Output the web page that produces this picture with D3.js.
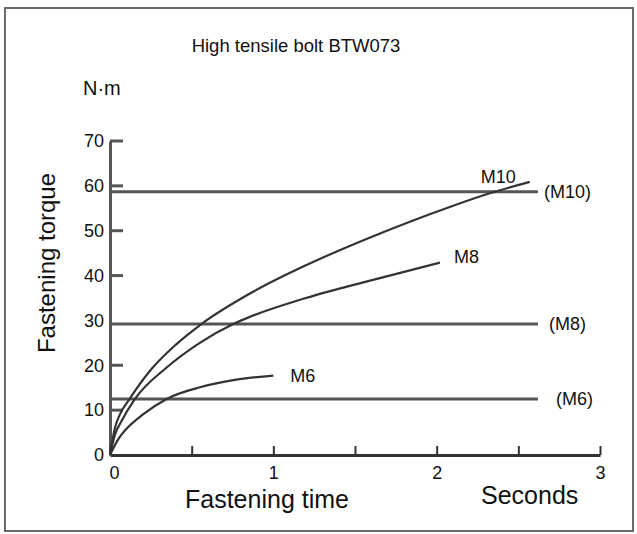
<!DOCTYPE html>
<html>
<head>
<meta charset="utf-8">
<script src="https://cdn.jsdelivr.net/npm/d3@7"></script>
<style>
  html, body { margin: 0; padding: 0; background: #fff; }
  svg { display: block; }
  text { font-family: "Liberation Sans", Arial, sans-serif; fill: #111; }
</style>
</head>
<body>
<svg id="chart" width="637" height="534"></svg>
<script>
// ---- data ----
const title = "High tensile bolt BTW073";
const unitLabel = "N·m";
const yAxisTitle = "Fastening torque";
const xAxisTitle = "Fastening time";
const xUnit = "Seconds";

const timeTickLabels = [0, 1, 2, 3];
const timeMinorTicks = [0, 0.5, 1, 1.5, 2, 2.5, 3];
const torqueTickLabels = [0, 10, 20, 30, 40, 50, 60, 70];
const torqueTickMarks = [10, 20, 40, 50, 60, 70];

const seriesNames = ["M10", "M8", "M6"];
const m10Time   = [0, 0.03, 0.06, 0.12, 0.25, 0.4, 0.56, 0.857, 1.2, 1.6, 2.08, 2.33, 2.57];
const m10Torque = [0, 6, 9, 12.5, 19, 24.5, 29.2, 36, 42.3, 48.6, 55.3, 58.4, 60.9];
const m8Time    = [0, 0.03, 0.07, 0.153, 0.347, 0.55, 0.755, 0.857, 1.2, 1.67, 2.02];
const m8Torque  = [0, 4.5, 7.5, 12.5, 19.5, 25, 29.2, 30.8, 35, 39.6, 42.9];
const m6Time    = [0, 0.05, 0.1, 0.2, 0.347, 0.55, 0.755, 1.0];
const m6Torque  = [0, 3.5, 5.8, 9, 12.5, 15.1, 16.7, 17.7];

const limitNames  = ["(M10)", "(M8)", "(M6)"];
const limitTorque = [58.7, 29.2, 12.5];
const limitEndTime = 2.62;

// ---- drawing ----
const svg = d3.select("#chart");
const x = d3.scaleLinear().domain([0, 3]).range([110, 600]);
const y = d3.scaleLinear().domain([0, 70]).range([455, 141]);

// frame
svg.append("rect").attr("x", 5).attr("y", 8).attr("width", 628).attr("height", 523)
  .attr("fill", "#fff").attr("stroke", "#6a6a6a").attr("stroke-width", 2);

// title and labels
svg.append("text").attr("x", 296).attr("y", 52).attr("text-anchor", "middle")
  .attr("font-size", 18.5).text(title);
svg.append("text").attr("x", 83).attr("y", 95).attr("font-size", 20).text(unitLabel);
svg.append("text").attr("transform", "translate(55,263) rotate(-90)")
  .attr("text-anchor", "middle").attr("font-size", 24).text(yAxisTitle);
svg.append("text").attr("x", 185).attr("y", 508).attr("font-size", 25).text(xAxisTitle);
svg.append("text").attr("x", 481).attr("y", 504).attr("font-size", 25).text(xUnit);

// y axis
const yAxis = d3.axisLeft(y).tickValues(torqueTickLabels).tickSizeInner(0).tickSizeOuter(0).tickPadding(6);
const gy = svg.append("g").attr("transform", "translate(110,0)").call(yAxis);
gy.select(".domain").attr("stroke", "#555").attr("stroke-width", 3);
gy.selectAll(".tick line").remove();
gy.selectAll(".tick text").attr("font-size", 18).attr("font-family", null).attr("fill", "#111");
svg.append("g").selectAll("line").data(torqueTickMarks).join("line")
  .attr("x1", x(0)).attr("x2", x(0) + 13)
  .attr("y1", d => y(d)).attr("y2", d => y(d))
  .attr("stroke", "#555").attr("stroke-width", 3);

// x axis
const xAxis = d3.axisBottom(x).tickValues(timeMinorTicks).tickSizeInner(-9).tickSizeOuter(0)
  .tickPadding(11).tickFormat(d => timeTickLabels.includes(d) ? d3.format("d")(d) : "");
const gx = svg.append("g").attr("transform", "translate(0,455)").call(xAxis);
gx.select(".domain").attr("stroke", "#333").attr("stroke-width", 3);
gx.selectAll(".tick line").attr("stroke", "#333").attr("stroke-width", 2);
gx.selectAll(".tick text").attr("font-size", 18).attr("font-family", null).attr("fill", "#111");
gx.selectAll(".tick").filter(d => d === 0).select("text").attr("dx", 4);

// limit lines
limitNames.forEach((name, i) => {
  svg.append("line")
    .attr("x1", x(0)).attr("x2", x(limitEndTime))
    .attr("y1", y(limitTorque[i])).attr("y2", y(limitTorque[i]))
    .attr("stroke", "#555").attr("stroke-width", 3);
});
const limitLabelDx = [6, 11, 18];
limitNames.forEach((name, i) => {
  svg.append("text").attr("x", x(limitEndTime) + limitLabelDx[i]).attr("y", y(limitTorque[i]) + 6)
    .attr("font-size", 18).text(name);
});

// curves
const line = d3.line().x(d => x(d[0])).y(d => y(d[1])).curve(d3.curveMonotoneX);
const series = [
  [m10Time, m10Torque],
  [m8Time, m8Torque],
  [m6Time, m6Torque]
];
series.forEach(([t, v]) => {
  svg.append("path").datum(t.map((ti, i) => [ti, v[i]])).attr("d", line)
    .attr("fill", "none").attr("stroke", "#333").attr("stroke-width", 2.2);
});

// curve labels
const labelDx = [-49, 14, 17];
const labelDy = [1, 0, 6];
series.forEach(([t, v], i) => {
  const n = t.length - 1;
  svg.append("text").attr("x", x(t[n]) + labelDx[i]).attr("y", y(v[n]) + labelDy[i])
    .attr("font-size", 18).text(seriesNames[i]);
});
</script>
</body>
</html>
